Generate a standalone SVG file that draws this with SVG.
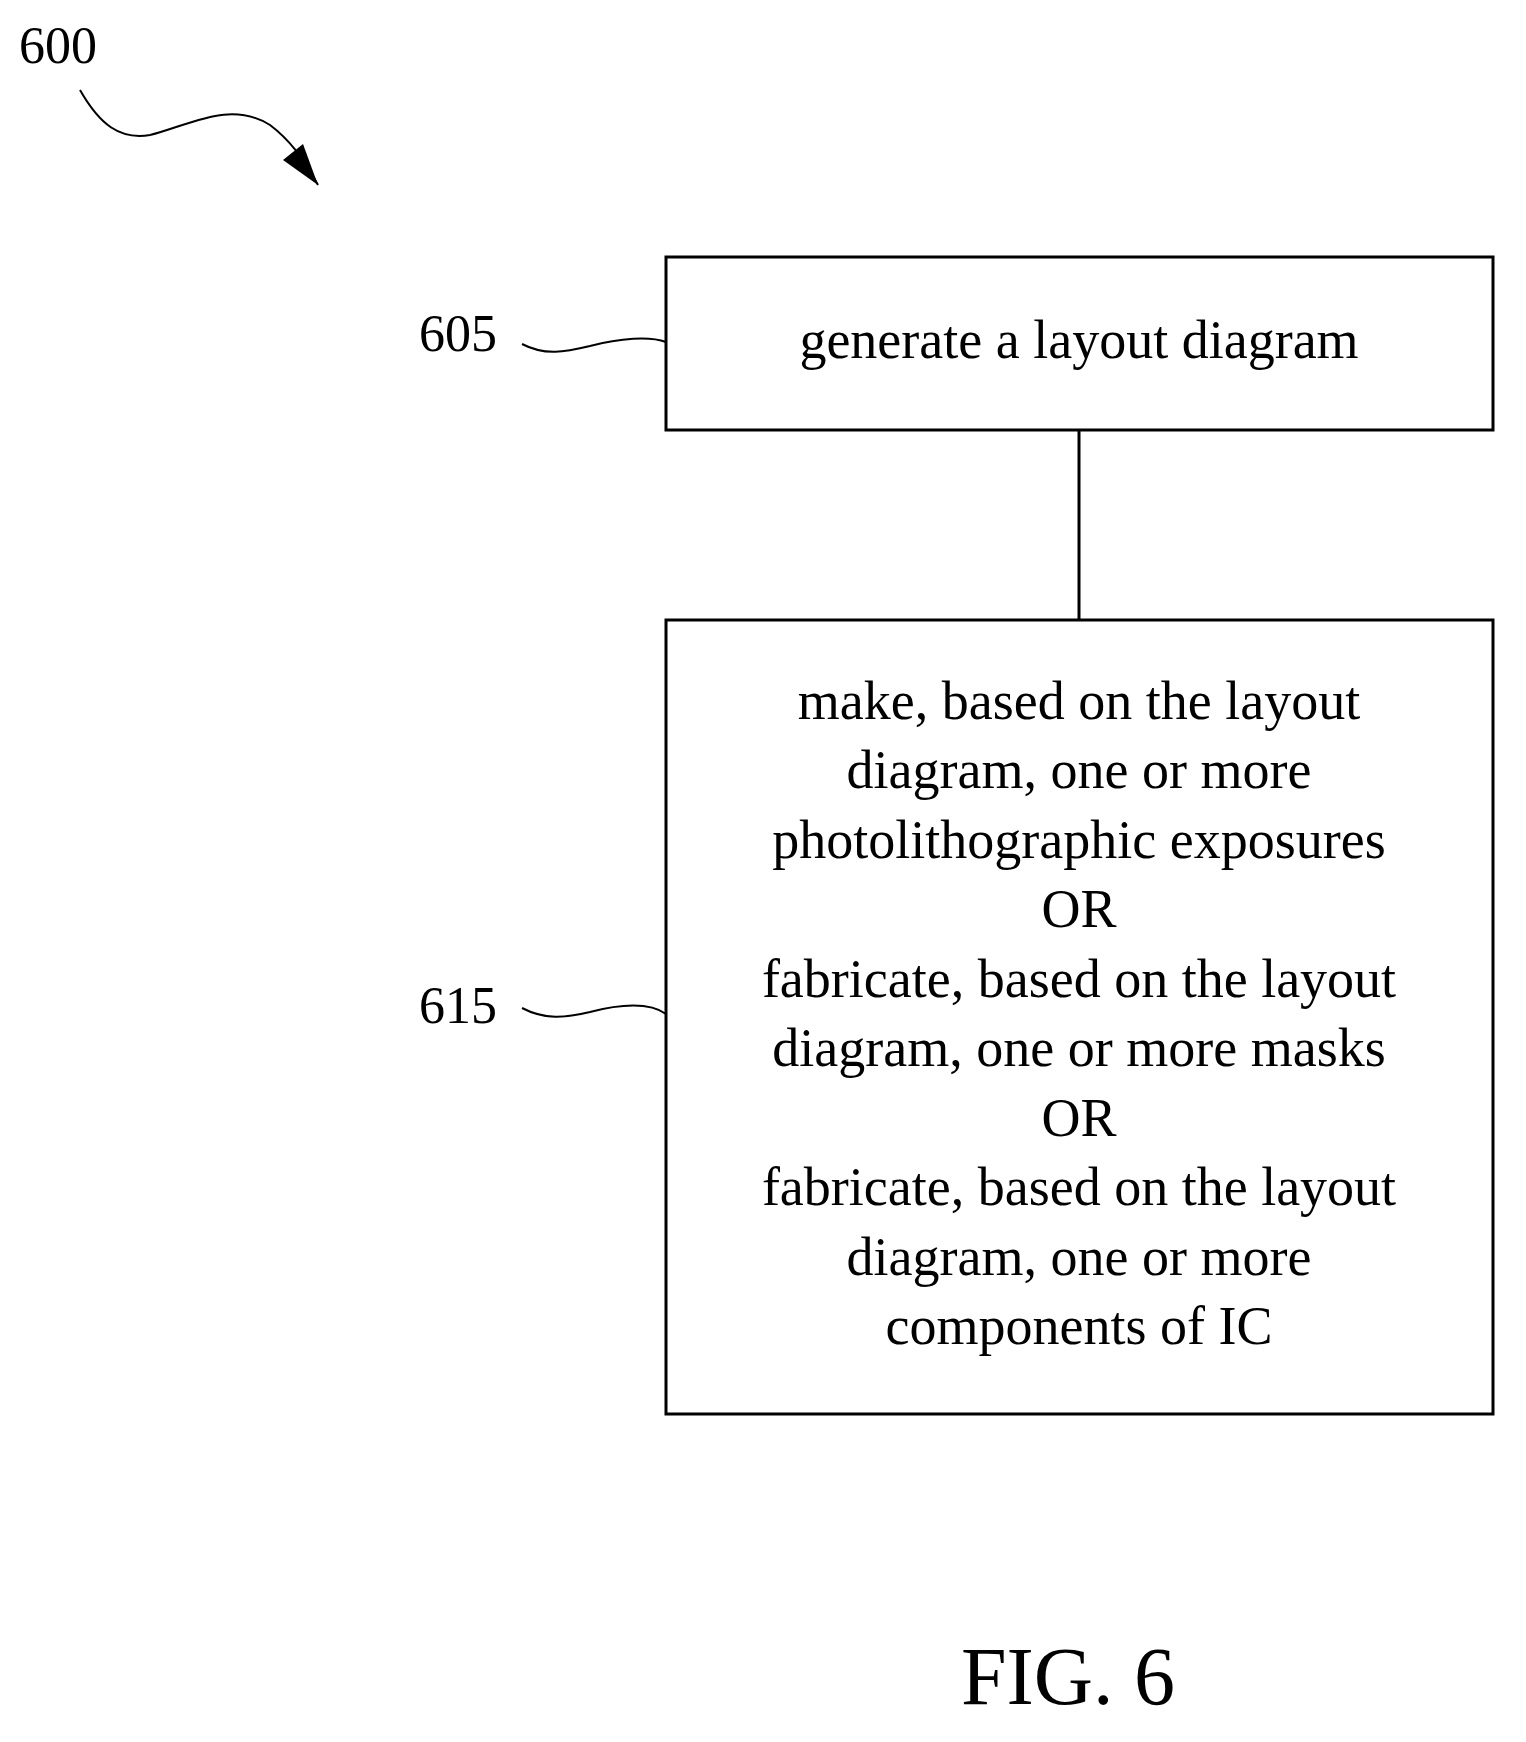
<svg xmlns="http://www.w3.org/2000/svg" width="1526" height="1742" viewBox="0 0 1526 1742">
<style>
text{font-family:"Liberation Serif","Times New Roman",serif;fill:#000}
.t{font-size:54px;text-anchor:middle}
.l{font-size:52px}
.b{fill:#fff;stroke:#000;stroke-width:3}
.w{fill:none;stroke:#000;stroke-width:2}
</style>
<defs><marker id="ah" markerWidth="12" markerHeight="10" refX="11" refY="5" orient="auto" markerUnits="userSpaceOnUse" viewBox="0 0 12 10"><path d="M0,0 L12,5 L0,10 Z"/></marker></defs>
<rect width="1526" height="1742" fill="#fff"/>
<g id="ref600">
<text class="l" x="19" y="63">600</text>
<path d="M80,90 C100,125 120,140 150,135 C190,125 230,100 270,125 C290,140 305,160 318,185" class="w"/>
<path d="M318,185 L283,160 L303,144 Z"/>
</g>
<g id="connectors">
<line x1="1079" y1="430" x2="1079" y2="620" stroke="#000" stroke-width="3"/>
<path d="M522,344 C545,356 565,352 590,346 C620,338 650,336 666,342" class="w"/>
<path d="M522,1008 C545,1020 565,1018 590,1012 C620,1004 650,1002 666,1014" class="w"/>
</g>
<g id="n605">
<rect class="b" x="666" y="257" width="827" height="173"/>
<text class="l" x="419" y="351">605</text>
<text class="t" x="1079" y="358">generate a layout diagram</text>
</g>
<g id="n615">
<rect class="b" x="666" y="620" width="827" height="794"/>
<text class="l" x="419" y="1023">615</text>
<text class="t" x="1079" y="719">make, based on the layout</text>
<text class="t" x="1079" y="788">diagram, one or more</text>
<text class="t" x="1079" y="858">photolithographic exposures</text>
<text class="t" x="1079" y="927">OR</text>
<text class="t" x="1079" y="997">fabricate, based on the layout</text>
<text class="t" x="1079" y="1066">diagram, one or more masks</text>
<text class="t" x="1079" y="1136">OR</text>
<text class="t" x="1079" y="1205">fabricate, based on the layout</text>
<text class="t" x="1079" y="1275">diagram, one or more</text>
<text class="t" x="1079" y="1344">components of IC</text>
</g>
<text x="1068" y="1704" font-size="82" text-anchor="middle">FIG. 6</text>
</svg>
